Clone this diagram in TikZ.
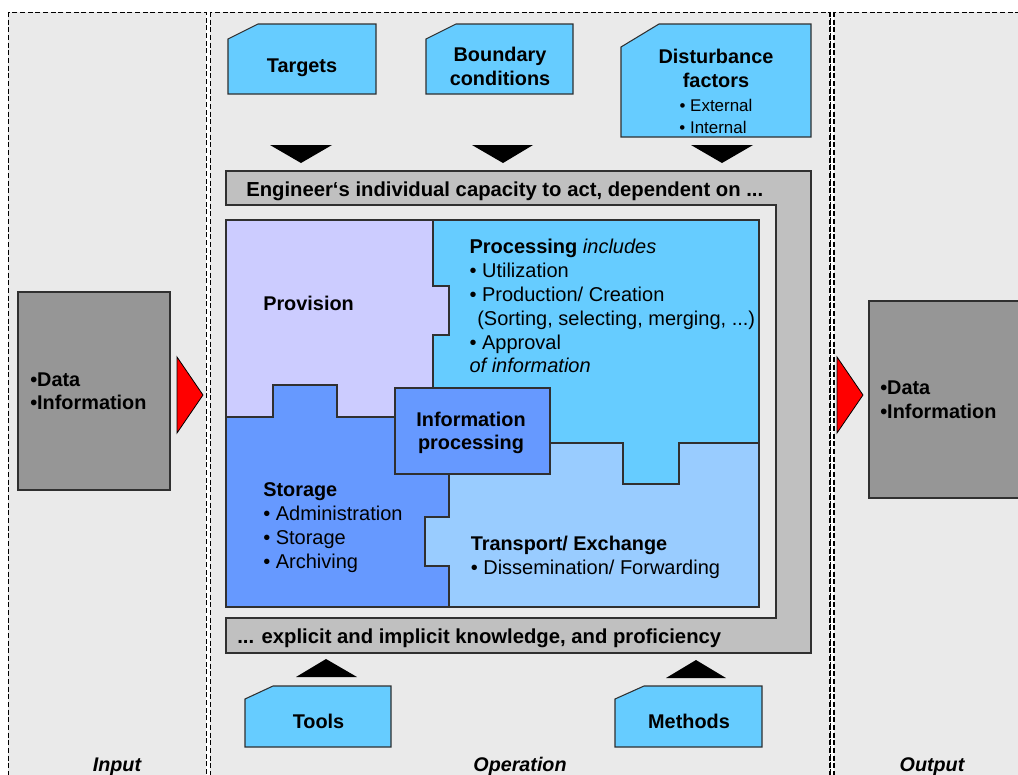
\documentclass[tikz,border=0pt]{standalone}
\usepackage{fontspec}
\setmainfont{Liberation Sans}
\definecolor{panelbg}{HTML}{EAEAEA}
\definecolor{iobox}{HTML}{969696}
\definecolor{framegray}{HTML}{C0C0C0}
\definecolor{cardblue}{HTML}{66CCFF}
\definecolor{provcol}{HTML}{CCCCFF}
\definecolor{proccol}{HTML}{66CCFF}
\definecolor{storcol}{HTML}{6699FF}
\definecolor{transcol}{HTML}{99CCFF}
\definecolor{edgecol}{HTML}{303030}

\begin{document}
\begin{tikzpicture}[x=0.75pt,y=-0.75pt,
  panel/.style={fill=panelbg, draw=black, line width=0.75pt, dash pattern=on 3.75pt off 2pt},
  panelthick/.style={draw=black, line width=1.4pt, dash pattern=on 3.75pt off 2pt},
  outline/.style={draw=edgecol, line width=0.8pt},
  card/.style={outline, fill=cardblue},
  iofill/.style={outline, fill=iobox},
  redtri/.style={draw=black, line width=0.6pt, fill=red},
  blacktri/.style={fill=black},
  txt/.style={inner sep=0pt, font=\fontsize{15}{18}\selectfont},
  btxt/.style={txt, font=\fontsize{14.9}{18}\selectfont\bfseries},
  bandtxt/.style={txt, font=\fontsize{15.2}{18}\selectfont\bfseries},
  smalltxt/.style={inner sep=0pt, font=\fontsize{12.7}{16}\selectfont},
  caption/.style={inner sep=0pt, font=\fontsize{14.8}{18}\selectfont\bfseries\itshape}
]
\useasboundingbox (0,0) rectangle (1018,775);
\clip (0,0) rectangle (1018,775);

% three columns: input, operation, output
\draw[panel] (8,12) rectangle (206,800);
\draw[panel] (210,12) rectangle (830,800);
\draw[panel] (834,12) rectangle (1040,800);
\draw[panelthick] (830,12) -- (830,800);
\draw[panelthick] (834,12) -- (834,800);

% input / output data boxes and red pointers
\draw[iofill] (18,292) rectangle (170,490);
\draw[iofill] (869,301) rectangle (1040,498);
\draw[redtri] (177,357) -- (203,395) -- (177,433) -- cycle;
\draw[redtri] (837,357) -- (863,395) -- (837,433) -- cycle;
\node[btxt, anchor=base west] (in1) at (30,386) {•Data};
\node[btxt, anchor=base west] (in2) at (30,409.5) {•Information};
\node[btxt, anchor=base west] (out1) at (880,394.5) {•Data};
\node[btxt, anchor=base west] (out2) at (880,418) {•Information};

% influence cards on top
\draw[card] (228,39) -- (258,24) -- (376,24) -- (376,94) -- (228,94) -- cycle;
\draw[card] (426,39) -- (456,24) -- (573,24) -- (573,94) -- (426,94) -- cycle;
\draw[card] (621,47) -- (659,24) -- (811,24) -- (811,137) -- (621,137) -- cycle;
\node[btxt, anchor=base] (targets) at (302,72.7) {Targets};
\node[btxt, anchor=base] (bound1) at (500,61.7) {Boundary};
\node[btxt, anchor=base] (bound2) at (500,85) {conditions};
\node[btxt, anchor=base] (dist1) at (716,63.3) {Disturbance};
\node[btxt, anchor=base] (dist2) at (716,87.3) {factors};
\node[smalltxt, anchor=base] (dist3) at (716,111.5) {• External};
\node[smalltxt, anchor=base] (dist4) at (713,133.3) {• Internal};

% pointers into the capacity frame
\fill[blacktri] (270,145) -- (332,145) -- (301,163) -- cycle;
\fill[blacktri] (472,145) -- (533,145) -- (503,163) -- cycle;
\fill[blacktri] (691,145) -- (753,145) -- (722,163) -- cycle;
\fill[blacktri] (296,677) -- (357,677) -- (326,659) -- cycle;
\fill[blacktri] (666,678) -- (726,678) -- (696,660) -- cycle;

% capacity frame
\draw[outline, fill=framegray] (226,171) -- (811,171) -- (811,653) -- (226,653)
  -- (226,618) -- (776,618) -- (776,205) -- (226,205) -- cycle;
\node[bandtxt, anchor=base west] (capacity) at (246,196.7)
  {Engineer‘s individual capacity to act, dependent on ...};
\node[bandtxt, anchor=base west] (knowledge) at (237,643.3)
  {... explicit and implicit knowledge, and proficiency};

% puzzle pieces
\draw[outline, fill=provcol] (226,220) -- (433,220) -- (433,286) -- (449,286) -- (449,335)
  -- (433,335) -- (433,417) -- (337,417) -- (337,385) -- (273,385) -- (273,417)
  -- (226,417) -- cycle;
\draw[outline, fill=proccol] (433,220) -- (759,220) -- (759,443) -- (679,443) -- (679,484)
  -- (623,484) -- (623,443) -- (433,443) -- (433,335) -- (449,335) -- (449,286)
  -- (433,286) -- cycle;
\draw[outline, fill=storcol] (226,417) -- (273,417) -- (273,385) -- (337,385) -- (337,417)
  -- (449,417) -- (449,517) -- (425,517) -- (425,566) -- (449,566) -- (449,607)
  -- (226,607) -- cycle;
\draw[outline, fill=transcol] (449,443) -- (623,443) -- (623,484) -- (679,484) -- (679,443)
  -- (759,443) -- (759,607) -- (449,607) -- (449,566) -- (425,566) -- (425,517)
  -- (449,517) -- cycle;
\draw[outline, fill=storcol] (395,388) rectangle (550,474);

\node[btxt, anchor=base west] (provision) at (263,310) {Provision};

\node[txt, anchor=base west] (proc1) at (469.3,253.3) {\textbf{Processing} \textit{includes}};
\node[txt, anchor=base west] (proc2) at (469.3,277.7) {• Utilization};
\node[txt, anchor=base west] (proc3) at (469.3,301.7) {• Production/ Creation};
\node[txt, anchor=base west] (proc4) at (477,325.7) {(Sorting, selecting, merging, ...)};
\node[txt, anchor=base west] (proc5) at (469.3,349.3) {• Approval};
\node[txt, anchor=base west] (proc6) at (469.3,372.7) {\textit{of information}};

\node[btxt, anchor=base] (info1) at (471,426) {Information};
\node[btxt, anchor=base] (info2) at (471,449.5) {processing};

\node[btxt, anchor=base west] (stor1) at (263,496) {Storage};
\node[txt, anchor=base west] (stor2) at (263,520) {• Administration};
\node[txt, anchor=base west] (stor3) at (263,544) {• Storage};
\node[txt, anchor=base west] (stor4) at (263,568.5) {• Archiving};

\node[btxt, anchor=base west] (trans1) at (470.5,550) {Transport/ Exchange};
\node[txt, anchor=base west] (trans2) at (470.5,574) {• Dissemination/ Forwarding};

% resource cards below
\draw[card] (245,699) -- (273,686) -- (391,686) -- (391,747) -- (245,747) -- cycle;
\draw[card] (615,699) -- (644,686) -- (762,686) -- (762,747) -- (615,747) -- cycle;
\node[btxt, anchor=base] (tools) at (318.5,728.3) {Tools};
\node[btxt, anchor=base] (methods) at (689,728.3) {Methods};

% column captions
\node[caption, anchor=base] (capin) at (117,771) {Input};
\node[caption, anchor=base] (capop) at (520,771) {Operation};
\node[caption, anchor=base] (capout) at (932,771) {Output};
\end{tikzpicture}
\end{document}
